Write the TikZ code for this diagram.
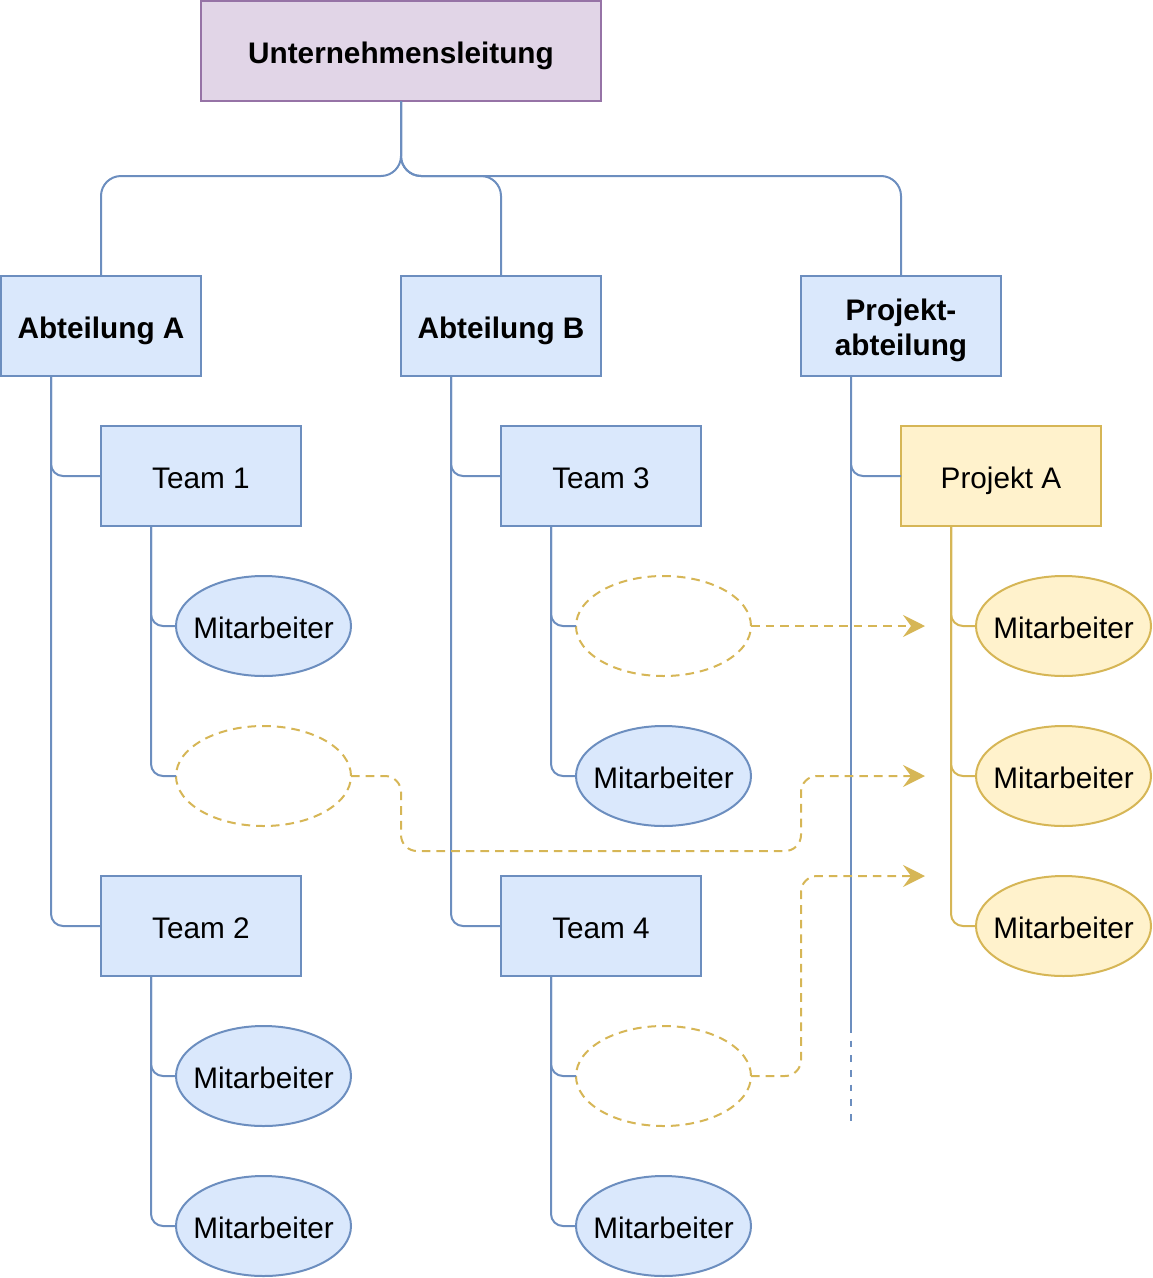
\documentclass[tikz,border=0pt]{standalone}
\usepackage{fontspec}
\setmainfont{Liberation Sans}
\usetikzlibrary{arrows.meta,shapes.geometric}
\definecolor{bfill}{HTML}{DAE8FC}
\definecolor{bline}{HTML}{6C8EBF}
\definecolor{pfill}{HTML}{E1D5E7}
\definecolor{pline}{HTML}{9673A6}
\definecolor{yfill}{HTML}{FFF2CC}
\definecolor{yline}{HTML}{D6B656}
\tikzset{
  every node/.style={font=\fontsize{22.3}{26.25}\selectfont, outer sep=0pt, inner sep=0pt, line width=1.5pt,
    text height=19pt, text depth=0pt},
  box/.style={rectangle, draw=bline, fill=bfill, minimum width=150pt, minimum height=75pt, align=center},
  topbox/.style={box, draw=pline, fill=pfill, minimum width=300pt, font=\fontsize{22.3}{26.25}\selectfont\bfseries},
  deptbox/.style={box, font=\fontsize{22.3}{26.25}\selectfont\bfseries},
  projbox/.style={box, draw=yline, fill=yfill},
  emp/.style={ellipse, draw=bline, fill=bfill, minimum width=131.25pt, minimum height=75pt},
  yemp/.style={emp, draw=yline, fill=yfill},
  ghost/.style={ellipse, draw=yline, dash pattern=on 6.5pt off 4.5pt, minimum width=131.25pt, minimum height=75pt},
  conn/.style={draw=bline, line width=1.5pt, rounded corners=9pt},
  yconn/.style={draw=yline, line width=1.5pt, rounded corners=9pt},
  move/.style={draw=yline, line width=1.5pt, rounded corners=12pt, dash pattern=on 6.5pt off 4.5pt,
    -{Stealth[length=16.5pt, width=16.5pt, inset=6pt]}},
}
\begin{document}
\begin{tikzpicture}[x=0.75pt, y=-0.75pt]
\useasboundingbox (0,0) rectangle (1153,1278);

\node[topbox] (ul) at (401,51) {Unternehmensleitung};
\node[deptbox] (aA) at (101,326) {Abteilung A};
\node[deptbox] (aB) at (501,326) {Abteilung B};
\node[deptbox, label={[align=center, text height=, text depth=, yshift=-3pt, font=\fontsize{22.3}{26.25}\selectfont\bfseries]center:Projekt-\\abteilung}] (pabt) at (901,326) {};

\node[box] (t1) at (201,476) {Team 1};
\node[box] (t3) at (601,476) {Team 3};
\node[projbox] (pA) at (1001,476) {Projekt A};
\node[box] (t2) at (201,926) {Team 2};
\node[box] (t4) at (601,926) {Team 4};

\node[emp, label={center:Mitarbeiter}] (m1) at (263.5,626) {};
\node[ghost] (g1) at (263.5,776) {};
\node[ghost] (g3) at (663.5,626) {};
\node[emp, label={center:Mitarbeiter}] (m3) at (663.5,776) {};
\node[emp, label={center:Mitarbeiter}] (m2a) at (263.5,1076) {};
\node[emp, label={center:Mitarbeiter}] (m2b) at (263.5,1226) {};
\node[ghost] (g4) at (663.5,1076) {};
\node[emp, label={center:Mitarbeiter}] (m4) at (663.5,1226) {};
\node[yemp, label={center:Mitarbeiter}] (p1) at (1063.5,626) {};
\node[yemp, label={center:Mitarbeiter}] (p2) at (1063.5,776) {};
\node[yemp, label={center:Mitarbeiter}] (p3) at (1063.5,926) {};

\coordinate (split) at (401,176);
\coordinate (solidend) at (851,1026);
\coordinate (dashend) at (851,1126);
\coordinate (tipA) at (925,626);
\coordinate (tipB) at (925,776);
\coordinate (tipC) at (925,876);

% top tree
\draw[conn, rounded corners=15pt] (ul.south) -- (split) -| (aA.north);
\draw[conn, rounded corners=15pt] (ul.south) -- (split) -| (aB.north);
\draw[conn, rounded corners=15pt] (ul.south) -- (split) -| (pabt.north);

% departments to teams
\draw[conn] ([xshift=37.5pt]aA.south west) |- (t1.west);
\draw[conn] ([xshift=37.5pt]aA.south west) |- (t2.west);
\draw[conn] ([xshift=37.5pt]aB.south west) |- (t3.west);
\draw[conn] ([xshift=37.5pt]aB.south west) |- (t4.west);
\draw[conn] ([xshift=37.5pt]pabt.south west) |- (pA.west);
\draw[draw=bline, line width=1.5pt] ([xshift=37.5pt]pabt.south west) -- (solidend);
\draw[draw=bline, line width=1.5pt, dash pattern=on 5pt off 6pt] (solidend) -- (dashend);

% teams to members
\draw[conn] ([xshift=37.5pt]t1.south west) |- (m1.west);
\draw[conn] ([xshift=37.5pt]t1.south west) |- (g1.west);
\draw[conn] ([xshift=37.5pt]t3.south west) |- (g3.west);
\draw[conn] ([xshift=37.5pt]t3.south west) |- (m3.west);
\draw[conn] ([xshift=37.5pt]t2.south west) |- (m2a.west);
\draw[conn] ([xshift=37.5pt]t2.south west) |- (m2b.west);
\draw[conn] ([xshift=37.5pt]t4.south west) |- (g4.west);
\draw[conn] ([xshift=37.5pt]t4.south west) |- (m4.west);
\draw[yconn] ([xshift=37.5pt]pA.south west) |- (p1.west);
\draw[yconn] ([xshift=37.5pt]pA.south west) |- (p2.west);
\draw[yconn] ([xshift=37.5pt]pA.south west) |- (p3.west);

% moves into project
\draw[move] (g3.east) -- (tipA);
\draw[move] (g1.east) -| (401,851) -| (801,776) -- (tipB);
\draw[move] (g4.east) -| (801,876) -- (tipC);
\end{tikzpicture}
\end{document}
